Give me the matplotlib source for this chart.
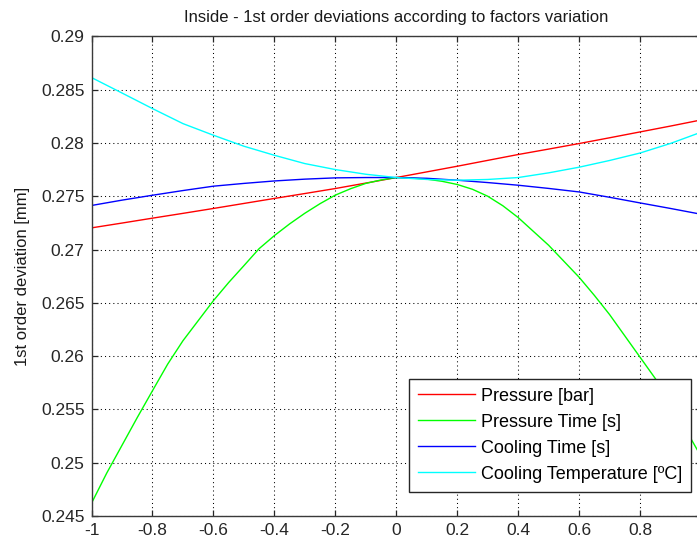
import matplotlib
matplotlib.use("Agg")
import matplotlib.pyplot as plt

plt.rcParams['font.family'] = ['Liberation Sans', 'DejaVu Sans']

# factor level (coded), coarse sampling for the nearly straight series
x = [-1.0, -0.9, -0.8, -0.7, -0.6, -0.5, -0.4, -0.3, -0.2, -0.1, 0.0,
     0.1, 0.2, 0.3, 0.4, 0.5, 0.6, 0.7, 0.8, 0.9, 1.0]

pressure = [0.27203, 0.27248, 0.27294, 0.27339, 0.27385, 0.27432, 0.27479, 0.27525, 0.27572, 0.27623, 0.27675,
            0.27728, 0.27781, 0.27836, 0.27891, 0.27942, 0.27994, 0.28048, 0.28103, 0.28158, 0.28215]

cooling_time = [0.27413, 0.27463, 0.27509, 0.27553, 0.27594, 0.27620, 0.27643, 0.27660, 0.27672, 0.27675, 0.27675,
                0.27668, 0.27650, 0.27628, 0.27603, 0.27573, 0.27540, 0.27490, 0.27437, 0.27385, 0.27331]

cooling_temp = [0.28613, 0.28468, 0.28322, 0.28181, 0.28072, 0.27969, 0.27884, 0.27806, 0.27750, 0.27706, 0.27675,
                0.27657, 0.27650, 0.27657, 0.27675, 0.27719, 0.27772, 0.27835, 0.27905, 0.27995, 0.28100]

# finer sampling for the strongly curved series
x_fine = [-1.0, -0.95, -0.9, -0.85, -0.8, -0.75, -0.7, -0.65, -0.6, -0.55, -0.5,
          -0.45, -0.4, -0.35, -0.3, -0.25, -0.2, -0.15, -0.1, -0.05, 0.0,
          0.05, 0.1, 0.15, 0.2, 0.25, 0.3, 0.35, 0.4, 0.45, 0.5,
          0.55, 0.6, 0.65, 0.7, 0.75, 0.8, 0.85, 0.9, 0.95, 1.0]

pressure_time = [0.24620, 0.24903, 0.25163, 0.25423, 0.25675, 0.25925, 0.26144, 0.26332, 0.26520, 0.26690, 0.26848,
                 0.27008, 0.27130, 0.27240, 0.27340, 0.27430, 0.27510, 0.27570, 0.27620, 0.27652, 0.27675,
                 0.27670, 0.27660, 0.27640, 0.27610, 0.27565, 0.27500, 0.27410, 0.27300, 0.27170, 0.27040,
                 0.26890, 0.26740, 0.26570, 0.26390, 0.26190, 0.25990, 0.25790, 0.25560, 0.25310, 0.25060]

labels = ["Pressure [bar]", "Pressure Time [s]", "Cooling Time [s]", "Cooling Temperature [ºC]"]
colors = ["#ff0000", "#00ff00", "#0000ff", "#00ffff"]

xticks = [-1, -0.8, -0.6, -0.4, -0.2, 0, 0.2, 0.4, 0.6, 0.8, 1]
xticklabels = ["-1", "-0.8", "-0.6", "-0.4", "-0.2", "0", "0.2", "0.4", "0.6", "0.8", "1"]
yticks = [0.245, 0.25, 0.255, 0.26, 0.265, 0.27, 0.275, 0.28, 0.285, 0.29]
yticklabels = ["0.245", "0.25", "0.255", "0.26", "0.265", "0.27", "0.275", "0.28", "0.285", "0.29"]

fig = plt.figure(figsize=(6.97, 5.41), dpi=100)
ax = fig.add_axes([0.1313, 0.0462, 0.8744, 0.8867])

ax.plot(x, pressure, color=colors[0], linewidth=1.0, label=labels[0])
ax.plot(x_fine, pressure_time, color=colors[1], linewidth=1.0, label=labels[1])
ax.plot(x, cooling_time, color=colors[2], linewidth=1.0, label=labels[2])
ax.plot(x, cooling_temp, color=colors[3], linewidth=1.0, label=labels[3])

ax.set_xlim(-1, 1)
ax.set_ylim(0.245, 0.29)
ax.set_xticks(xticks)
ax.set_xticklabels(xticklabels)
ax.set_yticks(yticks)
ax.set_yticklabels(yticklabels)
# the "1" label falls outside the visible figure area in the reference
ax.get_xticklabels()[-1].set_visible(False)

ax.grid(True, color='black', linestyle=(0, (1, 3)), linewidth=0.75)
ax.tick_params(direction='in', length=4.5, width=0.9, top=True, right=True,
               labelsize=12.5, colors='#262626', pad=5)
for sp in ax.spines.values():
    sp.set_color('#3a3a3a')
    sp.set_linewidth(1.0)

ax.set_title("Inside - 1st order deviations according to factors variation", fontsize=12, pad=10, color='#1a1a1a')
ax.set_ylabel("1st order deviation [mm]", fontsize=12, labelpad=8, color='#1a1a1a')

leg = ax.legend(loc='lower right', bbox_to_anchor=(0.9836, 0.0507), fontsize=13,
                fancybox=False, framealpha=1, edgecolor='#262626', borderpad=0.5,
                handlelength=3.15, handletextpad=0.32, labelspacing=0.5, borderaxespad=0)
leg.get_frame().set_linewidth(1.0)

fig.savefig("out.png", dpi=100, facecolor='white')
